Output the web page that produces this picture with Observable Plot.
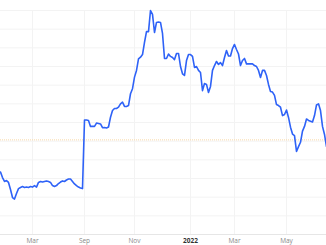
<!DOCTYPE html>
<html><head><meta charset="utf-8">
<script src="https://cdn.jsdelivr.net/npm/d3@7"></script>
<script src="https://cdn.jsdelivr.net/npm/@observablehq/plot@0.6"></script>
<style>html,body{margin:0;padding:0;background:#fff;overflow:hidden;}</style>
</head><body><div id="chart"></div>
<script>
const values = [
  33.5, 30.5, 28.4, 28.9, 27.9, 24.1, 19.8, 19.0, 22.0, 24.6,
  25.2, 25.7, 25.2, 25.4, 25.2, 25.7, 25.4, 26.2, 25.4, 27.9,
  28.4, 28.1, 28.4, 28.7, 28.4, 27.9, 26.2, 25.7, 26.2, 27.3,
  28.1, 28.7, 28.4, 29.2, 29.7, 29.7, 28.4, 27.1, 26.2, 25.4,
  24.9, 24.6, 61.3, 61.3, 61.1, 57.9, 57.9, 57.9, 59.7, 59.5,
  59.2, 57.2, 57.3, 57.1, 57.6, 62.8, 66.4, 67.5, 67.5, 68.2,
  70.0, 70.9, 68.6, 68.6, 69.1, 75.4, 78.1, 84.3, 87.9, 94.1,
  95.0, 96.4, 102.9, 108.7, 108.7, 120.0, 117.9, 108.2, 113.6, 113.8,
  113.6, 107.7, 94.3, 94.3, 96.7, 95.4, 94.8, 93.7, 97.0, 97.0,
  90.0, 86.1, 85.2, 93.2, 96.4, 96.4, 95.4, 89.5, 90.0, 87.9,
  86.8, 77.1, 80.9, 80.4, 76.1, 79.3, 87.9, 90.5, 92.7, 91.1,
  92.1, 90.5, 94.8, 98.6, 95.6, 95.6, 99.6, 101.8, 99.1, 96.7,
  90.5, 93.2, 94.3, 91.4, 91.4, 91.4, 91.4, 90.5, 90.0, 87.9,
  84.1, 87.9, 87.9, 85.2, 80.4, 76.6, 76.3, 74.5, 69.6, 69.1,
  68.2, 63.7, 64.3, 66.7, 62.7, 57.5, 53.8, 53.0, 44.5, 47.1,
  49.4, 55.4, 57.9, 61.9, 61.1, 60.7, 60.3, 63.7, 69.4, 70.0,
  66.4, 57.9, 53.6, 47.1
];
const tickIndex = [16, 42, 67, 95, 117, 143];
const tickLabels = ["Mar", "Sep", "Nov", "2022", "Mar", "May"];
const gridValues = [0, 10, 20, 30, 40, 50, 60, 70, 80, 90, 100, 110, 120];
const refValue = 50.7;

const data = values.map((v, i) => ({i, v}));
const ticks = tickIndex.map((t, k) => ({t, label: tickLabels[k], year: /^\d{4}$/.test(tickLabels[k])}));

const chart = Plot.plot({
  width: 326,
  height: 245,
  marginTop: 10,
  marginBottom: 11,
  marginLeft: 0,
  marginRight: 0,
  style: {background: "#fff", fontFamily: "'Open Sans', sans-serif"},
  x: {domain: [0, values.length - 1], axis: null},
  y: {domain: [0, 120], axis: null},
  marks: [
    Plot.ruleY(gridValues, {stroke: "#f3f3f3", strokeWidth: 1}),
    Plot.ruleX(tickIndex, {stroke: "#f3f3f3", strokeWidth: 1}),
    Plot.ruleY([0], {stroke: "#e6e6e6", strokeWidth: 1}),
    Plot.ruleY([refValue], {stroke: "#f9d9a8", strokeWidth: 1, strokeDasharray: "1,1"}),
    Plot.line(data, {x: "i", y: "v", stroke: "#2e62f7", strokeWidth: 1.6, strokeLinejoin: "round"}),
    Plot.text(ticks.filter(d => !d.year), {x: "t", text: "label", frameAnchor: "bottom", dy: 6.5, lineAnchor: "middle", fontSize: 6.5, fill: "#8a8a8a"}),
    Plot.text(ticks.filter(d => d.year), {x: "t", text: "label", frameAnchor: "bottom", dy: 6.5, lineAnchor: "middle", fontSize: 6.5, fontWeight: "bold", fill: "#333"})
  ]
});
document.getElementById("chart").appendChild(chart);
</script>
</body></html>
